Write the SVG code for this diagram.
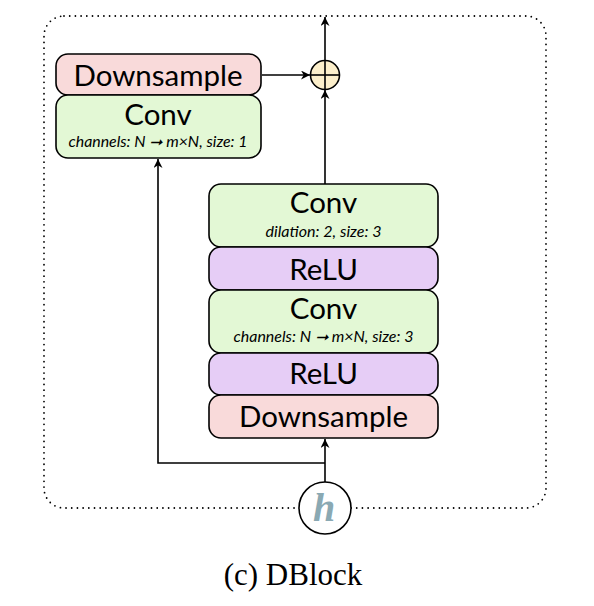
<svg xmlns="http://www.w3.org/2000/svg" width="594" height="606" viewBox="0 0 594 606">
<style>
.box{stroke:#000;stroke-width:1.6}
.ds{fill:#f9dada}
.cv{fill:#e3f8d5}
.re{fill:#e6cdf6}
.t{font-family:Lato,"Open Sans",sans-serif;font-size:29.5px;fill:#000;text-anchor:middle}
.s{font-family:Lato,"Open Sans",sans-serif;font-size:14.5px;font-style:italic;fill:#000;text-anchor:middle}
.ln{fill:none;stroke:#000;stroke-width:1.6}
</style>
<defs>
<marker id="ah" viewBox="0 0 10 10" refX="10" refY="5" markerWidth="9" markerHeight="9" markerUnits="userSpaceOnUse" orient="auto">
<path d="M0,0 L10,5 L0,10 L3,5 Z" fill="#000"/>
</marker>
</defs>
<rect x="44" y="16" width="502" height="492" rx="20" fill="none" stroke="#000" stroke-width="1.8" stroke-dasharray="0 5.7" stroke-linecap="round"/>
<g id="connectors">
<line class="ln" x1="325" y1="60" x2="325" y2="17" marker-end="url(#ah)"/>
<line class="ln" x1="262" y1="75" x2="310" y2="75" marker-end="url(#ah)"/>
<line class="ln" x1="325" y1="184" x2="325" y2="90" marker-end="url(#ah)"/>
<line class="ln" x1="325" y1="482" x2="325" y2="439" marker-end="url(#ah)"/>
<polyline class="ln" points="325,463 158,463 158,159" marker-end="url(#ah)"/>
</g>
<g id="downsample1"><rect class="box ds" x="56" y="54" width="205" height="41" rx="12"/><text class="t" x="158" y="86">Downsample</text></g>
<g id="conv1"><rect class="box cv" x="56" y="95" width="205" height="63" rx="12"/><text class="t" x="158" y="125">Conv</text><text class="s" x="158" y="147" textLength="179" lengthAdjust="spacingAndGlyphs">channels: N ➞ m×N, size: 1</text></g>
<g id="add"><circle cx="325" cy="75" r="14.5" fill="#fcefcb" stroke="#000" stroke-width="1.6"/><line class="ln" x1="310.5" y1="75" x2="339.5" y2="75"/><line class="ln" x1="325" y1="60.5" x2="325" y2="89.5"/></g>
<g id="conv2"><rect class="box cv" x="209" y="184" width="229" height="63" rx="12"/><text class="t" x="323.5" y="213">Conv</text><text class="s" x="323.5" y="237" textLength="116" lengthAdjust="spacingAndGlyphs">dilation: 2, size: 3</text></g>
<g id="relu1"><rect class="box re" x="209" y="247" width="229" height="43" rx="12"/><text class="t" x="323.5" y="280">ReLU</text></g>
<g id="conv3"><rect class="box cv" x="209" y="290" width="229" height="63" rx="12"/><text class="t" x="323.5" y="319">Conv</text><text class="s" x="323.5" y="342" textLength="180" lengthAdjust="spacingAndGlyphs">channels: N ➞ m×N, size: 3</text></g>
<g id="relu2"><rect class="box re" x="209" y="353" width="229" height="42" rx="12"/><text class="t" x="323.5" y="384">ReLU</text></g>
<g id="downsample2"><rect class="box ds" x="209" y="395" width="229" height="43" rx="12"/><text class="t" x="323.5" y="427">Downsample</text></g>
<g id="h"><circle cx="325" cy="508" r="26" fill="#fff" stroke="#000" stroke-width="1.6"/><text x="324" y="521" font-family="'Liberation Serif',serif" font-size="40" font-weight="bold" font-style="italic" fill="#8aa9b3" text-anchor="middle">h</text></g>
<text x="293" y="585" font-family="'Liberation Serif',serif" font-size="31" fill="#000" text-anchor="middle">(c) DBlock</text>
</svg>
